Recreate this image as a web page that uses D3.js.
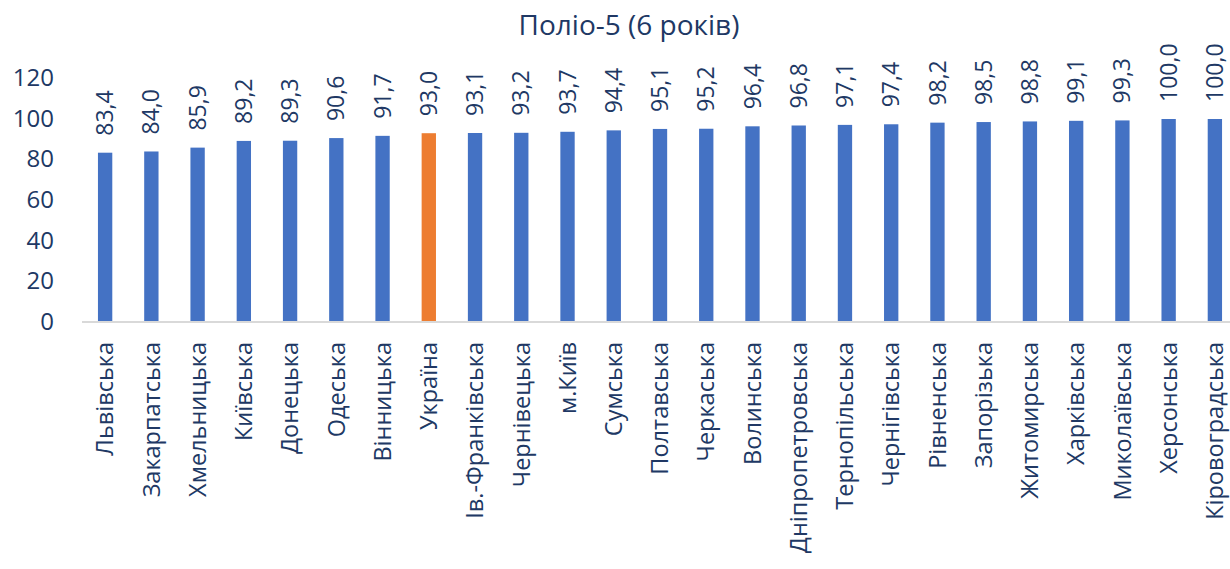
<!DOCTYPE html>
<html>
<head>
<meta charset="utf-8">
<script src="https://cdn.jsdelivr.net/npm/d3@7"></script>
<style>
  body { margin: 0; background: #fff; }
  text { font-family: "Open Sans", sans-serif; fill: #203864; }
</style>
</head>
<body>
<svg id="chart" width="1230" height="569"></svg>
<script>
const regions = ['Львівська', 'Закарпатська', 'Хмельницька', 'Київська', 'Донецька', 'Одеська',
  'Вінницька', 'Україна', 'Ів.-Франківська', 'Чернівецька', 'м.Київ', 'Сумська', 'Полтавська',
  'Черкаська', 'Волинська', 'Дніпропетровська', 'Тернопільська', 'Чернігівська', 'Рівненська',
  'Запорізька', 'Житомирська', 'Харківська', 'Миколаївська', 'Херсонська', 'Кіровоградська'];
const coverage = [83.4, 84.0, 85.9, 89.2, 89.3, 90.6, 91.7, 93.0, 93.1, 93.2, 93.7, 94.4, 95.1,
  95.2, 96.4, 96.8, 97.1, 97.4, 98.2, 98.5, 98.8, 99.1, 99.3, 100.0, 100.0];
const yTicks = [0, 20, 40, 60, 80, 100, 120];
const highlight = 'Україна';

const svg = d3.select('#chart');

// plot area
const plotLeft = 82, plotRight = 1238, plotTop = 78.4, plotBottom = 322;

let x = d3.scaleBand().domain(regions).range([plotLeft, plotRight]).paddingInner(0.69).paddingOuter(0.345);
let y = d3.scaleLinear().domain([0, 120]).range([plotBottom, plotTop]);

const fmt = d3.formatLocale({decimal: ',', thousands: ' ', grouping: [3], currency: ['', '']}).format('.1f');

/// title
svg.append('text')
  .attr('x', 629).attr('y', 35)
  .attr('text-anchor', 'middle')
  .style('font-size', '28px')
  .text('Поліо-5 (6 років)');

/// y axis labels only, no line
const yAxis = svg.append('g')
  .attr('transform', `translate(${plotLeft - 28},0)`)
  .call(d3.axisLeft(y).tickValues(yTicks).tickSize(0).tickPadding(0));
yAxis.select('.domain').remove();
yAxis.selectAll('text')
  .style('font-size', '24px')
  .attr('fill', '#203864')
  .style('font-family', '"Open Sans", sans-serif')
  .attr('dy', '0.3em');

/// bars
svg.selectAll('rect.bar')
  .data(regions)
  .enter().append('rect')
  .attr('class', 'bar')
  .attr('x', d => x(d))
  .attr('width', x.bandwidth())
  .attr('y', (d, i) => y(coverage[i]))
  .attr('height', (d, i) => y(0) - y(coverage[i]))
  .attr('fill', d => d === highlight ? '#ED7D31' : '#4472C4');

/// baseline
svg.append('line')
  .attr('x1', plotLeft).attr('x2', 1230)
  .attr('y1', y(0)).attr('y2', y(0))
  .attr('stroke', '#d9d9d9').attr('stroke-width', 2);

/// value labels
svg.selectAll('text.value')
  .data(regions)
  .enter().append('text')
  .attr('class', 'value')
  .attr('transform', (d, i) => `translate(${x(d) + x.bandwidth() / 2},${y(coverage[i]) - 17}) rotate(-90)`)
  .attr('dy', '0.35em')
  .style('font-size', '23px')
  .text((d, i) => fmt(coverage[i]));

/// category labels
svg.selectAll('text.cat')
  .data(regions)
  .enter().append('text')
  .attr('class', 'cat')
  .attr('transform', d => `translate(${x(d) + x.bandwidth() / 2},342) rotate(-90)`)
  .attr('text-anchor', 'end')
  .attr('dy', '0.35em')
  .style('font-size', '23.5px')
  .text(d => d);
</script>
</body>
</html>
